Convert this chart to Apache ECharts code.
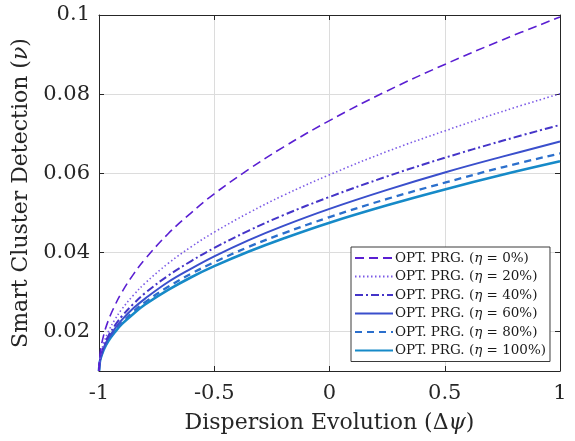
<!DOCTYPE html>
<html>
<head>
<meta charset="utf-8">
<script src="https://cdn.jsdelivr.net/npm/echarts@6/dist/echarts.min.js"></script>
<style>html,body{margin:0;padding:0;background:#fff}#c{width:575px;height:441px}</style>
</head>
<body>
<div id="c"></div>
<script>
const xs = [-1, -0.995, -0.98, -0.96, -0.93, -0.9, -0.85, -0.8, -0.7, -0.6, -0.5, -0.35, -0.2, 0, 0.25, 0.5, 0.75, 1];
const eta0   = [0.0100, 0.0145, 0.0190, 0.0227, 0.0267, 0.0300, 0.0345, 0.0383, 0.0447, 0.0500, 0.0548, 0.0610, 0.0666, 0.0733, 0.0808, 0.0875, 0.0937, 0.0995];
const eta20  = [0.0100, 0.0135, 0.0170, 0.0199, 0.0231, 0.0257, 0.0292, 0.0322, 0.0372, 0.0414, 0.0451, 0.0500, 0.0544, 0.0596, 0.0655, 0.0707, 0.0756, 0.0801];
const eta40  = [0.0100, 0.0131, 0.0162, 0.0188, 0.0216, 0.0239, 0.0270, 0.0297, 0.0341, 0.0378, 0.0411, 0.0455, 0.0494, 0.0540, 0.0592, 0.0639, 0.0682, 0.0722];
const eta60  = [0.0100, 0.0129, 0.0158, 0.0182, 0.0208, 0.0230, 0.0259, 0.0283, 0.0325, 0.0359, 0.0390, 0.0431, 0.0467, 0.0510, 0.0558, 0.0602, 0.0642, 0.0680];
const eta80  = [0.0100, 0.0128, 0.0155, 0.0178, 0.0203, 0.0223, 0.0251, 0.0274, 0.0313, 0.0346, 0.0375, 0.0414, 0.0448, 0.0489, 0.0535, 0.0576, 0.0615, 0.0650];
const eta100 = [0.0100, 0.0127, 0.0153, 0.0175, 0.0199, 0.0219, 0.0245, 0.0268, 0.0305, 0.0337, 0.0365, 0.0402, 0.0435, 0.0475, 0.0519, 0.0559, 0.0596, 0.0630];
const seriesNames = ['OPT. PRG. (η = 0%)', 'OPT. PRG. (η = 20%)', 'OPT. PRG. (η = 40%)', 'OPT. PRG. (η = 60%)', 'OPT. PRG. (η = 80%)', 'OPT. PRG. (η = 100%)'];
const xTicks = [-1, -0.5, 0, 0.5, 1];
const yTicks = [0.02, 0.04, 0.06, 0.08, 0.1];

const allY = [eta0, eta20, eta40, eta60, eta80, eta100];
const colors = ['#5a1fd2', '#7b5ae6', '#4434c8', '#3a4fcc', '#2b6fcc', '#168ac8'];
const dashes = [[9, 5], [1.5, 2.5], [8, 3, 2, 3], 'solid', [7, 5], 'solid'];
const widths = [1.6, 1.6, 2, 2, 2.3, 2.6];

const serif = 'DejaVu Serif';
const txt = '#262626';
const chart = echarts.init(document.getElementById('c'), null, {renderer: 'canvas'});
const series = allY.map((ys, k) => ({
  name: seriesNames[k],
  type: 'line',
  data: xs.map((x, i) => [x, ys[i]]),
  showSymbol: false,
  symbol: 'none',
  smooth: 0.4,
  lineStyle: {color: colors[k], width: widths[k], type: dashes[k]},
  itemStyle: {color: colors[k]},
  z: 10 - k
}));

const frame = {show: true, onZero: false, lineStyle: {color: txt, width: 1}};
const tick = {show: true, inside: true, length: 5, lineStyle: {color: txt}};

chart.setOption({
  animation: false,
  backgroundColor: '#fff',
  grid: {left: 99, right: 15, top: 15, bottom: 70},
  xAxis: [{
    type: 'value', min: -1, max: 1, interval: 0.5, position: 'bottom',
    axisLine: frame, axisTick: tick,
    axisLabel: {color: txt, fontFamily: serif, fontSize: 21, margin: 12,
      formatter: v => xTicks.includes(v) ? String(v) : ''},
    splitLine: {show: true, lineStyle: {color: '#dcdcdc', width: 1}},
    name: 'Dispersion Evolution (Δ{i|ψ})', nameLocation: 'middle', nameGap: 41,
    nameTextStyle: {color: txt, fontFamily: serif, fontSize: 22,
      rich: {i: {fontFamily: serif, fontStyle: 'italic', fontSize: 22, color: txt}}}
  }, {
    type: 'value', min: -1, max: 1, interval: 0.5, position: 'top',
    axisLine: frame, axisTick: tick,
    axisLabel: {show: false}, splitLine: {show: false}
  }],
  yAxis: [{
    type: 'value', min: 0.01, max: 0.1, position: 'left',
    axisLine: frame,
    axisTick: Object.assign({customValues: yTicks}, tick),
    axisLabel: {color: txt, fontFamily: serif, fontSize: 21, margin: 9, customValues: yTicks,
      formatter: v => String(+v.toFixed(2))},
    splitLine: {show: true, lineStyle: {color: '#dcdcdc', width: 1}},
    name: 'Smart Cluster Detection ({i|ν})', nameLocation: 'middle', nameGap: 60,
    nameTextStyle: {color: txt, fontFamily: serif, fontSize: 22,
      rich: {i: {fontFamily: serif, fontStyle: 'italic', fontSize: 22, color: txt}}}
  }, {
    type: 'value', min: 0.01, max: 0.1, position: 'right',
    axisLine: frame,
    axisTick: Object.assign({customValues: yTicks}, tick),
    axisLabel: {show: false}, splitLine: {show: false}
  }],
  legend: {
    orient: 'vertical', left: 351, top: 247,
    backgroundColor: '#fff', borderColor: '#3a3a3a', borderWidth: 1,
    padding: [4, 4, 4, 3], itemGap: 4.5, itemWidth: 38, itemHeight: 14,
    itemStyle: {opacity: 0, borderWidth: 0},
    data: seriesNames,
    formatter: n => n.replace('η', '{i|η}'),
    textStyle: {color: '#1a1a1a', fontFamily: serif, fontSize: 13.5, padding: [0, 0, 0, -3],
      rich: {i: {fontFamily: serif, fontStyle: 'italic', fontSize: 13.5, color: '#1a1a1a'}}}
  },
  series: series
});
</script>
</body>
</html>
